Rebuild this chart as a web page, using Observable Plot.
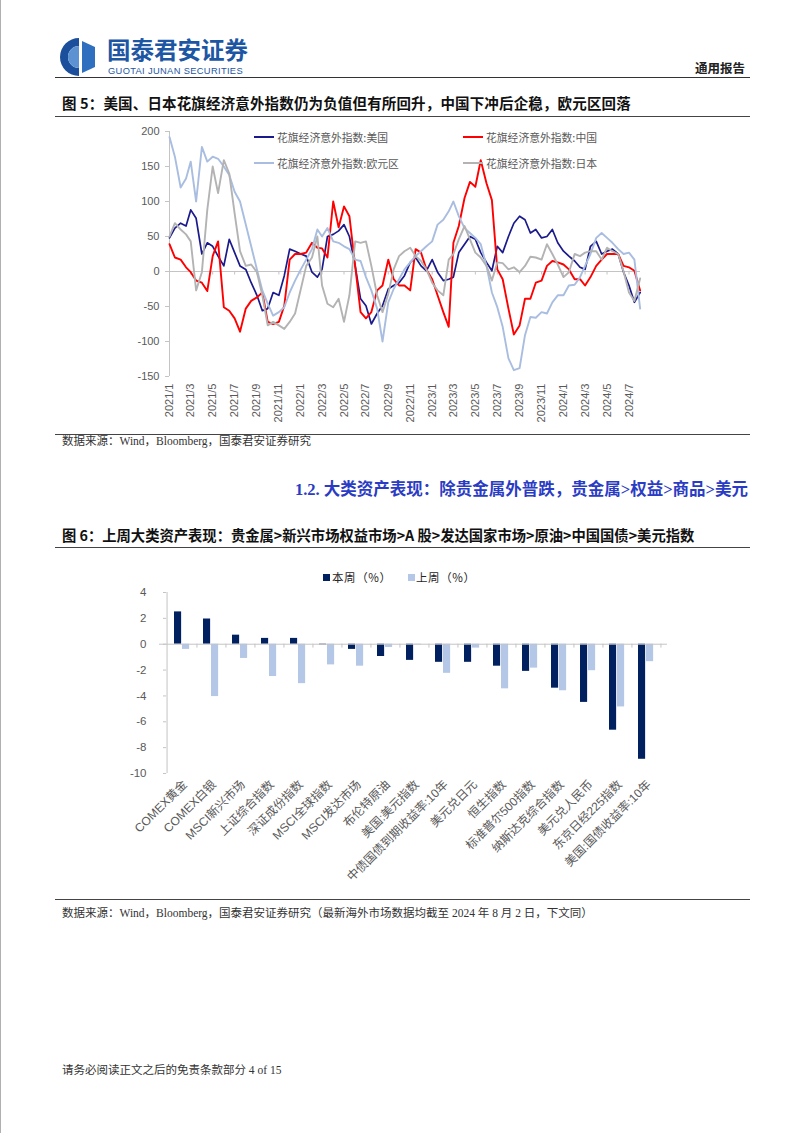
<!DOCTYPE html>
<html><head><meta charset="utf-8">
<script src="https://cdn.jsdelivr.net/npm/d3@7"></script>
<script src="https://cdn.jsdelivr.net/npm/@observablehq/plot@0.6"></script>
<style>
html,body{margin:0;padding:0;background:#fff;}
#page{position:relative;width:802px;height:1133px;overflow:hidden;background:#fff;}
.t{position:absolute;white-space:nowrap;}
.hr{position:absolute;height:0;}
#c1 text,#c2 text{fill:#595959;}
</style></head>
<body><div id="page"></div>
<script>
// ---------------- DATA ----------------
// Chart 1: Citi economic surprise indices, semi-monthly readings from 2021-01 to 2024-08
const surpriseUS = [48,62,69,65,88,76,25,41,36,22, 8,46,27,8,3,-16,-34,-56,-53,-30, -34,-6,32,29,25,22,-1,-8,3,50,
  53,58,67,50,8,-39,-49,-75,-60,-49, -25,-20,-16,-6,13,20,8,1,17,-1, -13,-11,-8,27,39,50,46,27,13,1,
  36,27,50,69,79,74,55,60,48,50, 60,41,29,22,15,6,3,36,43,25, 29,32,25,-1,-20,-44,-30];
const surpriseCN = [39,20,17,6,-1,-13,-16,-28,22,43, -51,-56,-67,-86,-53,-42,-37,-30,-72,-75, -72,-49,17,25,25,27,41,34,33,20,
  100,63,93,79,8,-58,-67,-58,-27,-20, 17,-11,-20,-20,-27,32,27,3,-11,-34, -58,-79,41,65,105,128,121,159,126,102,
  3,-11,-53,-90,-77,-39,-39,-16,-13,8, 15,13,10,3,-11,-11,-20,-8,8,17, 25,25,25,8,6,1,-27];
const surpriseEU = [192,164,120,133,157,100,178,157,164,161, 150,138,114,100,67,36,3,-27,-46,-63, -58,-51,-30,-13,3,17,32,60,50,62,
  43,41,36,32,17,15,-8,-27,-53,-100, -44,-25,-11,3,13,22,29,36,43,67, 74,86,100,79,62,55,48,39,8,-30,
  -51,-79,-124,-141,-138,-91,-65,-66,-58,-60, -44,-34,-34,-20,-19,-8,8,25,48,55, 48,41,32,25,27,17,-53];
const surpriseJP = [50,69,60,53,43,-27,-1,88,150,112, 159,140,83,29,8,10,-1,-34,-77,-72, -77,-82,-72,-60,-25,8,20,50,-20,-46,
  -51,-39,-72,-34,43,41,43,8,-34,-58, -32,3,22,29,34,22,15,3,-16,-27, -34,17,25,46,65,46,27,20,8,-13,
  13,12,3,6,-1,8,21,20,17,39, 25,10,-8,-1,25,22,27,29,29,17, 34,29,25,0,-30,-42,-10];
const seriesNames = ["花旗经济意外指数:美国","花旗经济意外指数:中国","花旗经济意外指数:欧元区","花旗经济意外指数:日本"];
const xTickLabels1 = ["2021/1","2021/3","2021/5","2021/7","2021/9","2021/11","2022/1","2022/3","2022/5","2022/7","2022/9","2022/11",
  "2023/1","2023/3","2023/5","2023/7","2023/9","2023/11","2024/1","2024/3","2024/5","2024/7"];
const yTicks1 = [200,150,100,50,0,-50,-100,-150];

// Chart 2: weekly asset performance (%)
const assets = ["COMEX黄金","COMEX白银","MSCI新兴市场","上证综合指数","深证成份指数","MSCI全球指数","MSCI发达市场","布伦特原油",
  "美国:美元指数","中债国债到期收益率:10年","美元兑日元","恒生指数","标准普尔500指数","纳斯达克综合指数","美元兑人民币","东京日经225指数","美国:国债收益率:10年"];
const thisWeek = [2.5,1.95,0.7,0.45,0.45,-0.05,-0.4,-0.95,-1.25,-1.4,-1.4,-1.7,-2.1,-3.4,-4.5,-6.65,-8.9];
const lastWeek = [-0.4,-4.05,-1.1,-2.5,-3.05,-1.6,-1.7,-0.25,-0.05,-2.25,-0.3,-3.45,-1.85,-3.6,-2.05,-4.85,-1.35];
const yTicks2 = [4,2,0,-2,-4,-6,-8,-10];
const legend2 = ["本周（%）","上周（%）"];

// ---------------- HELPERS ----------------
const page = document.getElementById("page");
const CJK = "'Noto Sans CJK SC', sans-serif";
const SERIF = "'Liberation Serif', 'Noto Sans CJK SC', serif";
function txt(s, o) {
  const d = document.createElement("div");
  d.className = "t";
  d.textContent = s;
  const size = o.size || 12;
  d.style.fontSize = size + "px";
  d.style.lineHeight = size + "px";
  d.style.top = (o.y - size / 2) + "px";
  if (o.anchor === "end") d.style.right = (802 - o.x) + "px"; else d.style.left = o.x + "px";
  d.style.fontFamily = o.family || CJK;
  d.style.fontWeight = o.weight || "normal";
  d.style.color = o.color || "#222";
  if (o.ls) d.style.letterSpacing = o.ls + "px";
  page.appendChild(d);
  return d;
}
function hr(x1, x2, y, w, c) {
  const d = document.createElement("div");
  d.className = "hr";
  d.style.left = x1 + "px"; d.style.width = (x2 - x1) + "px"; d.style.top = y + "px";
  d.style.borderTop = w + "px solid " + c;
  page.appendChild(d);
}
function box(x, y, w, h, c) {
  const d = document.createElement("div");
  d.style.cssText = `position:absolute;left:${x}px;top:${y}px;width:${w}px;height:${h}px;background:${c};`;
  page.appendChild(d);
}

// left page edge
box(0, 0, 1, 1133, "#b0b0b0");

// ---------------- HEADER ----------------
const logo = document.createElement("div");
logo.style.cssText = "position:absolute;left:55px;top:37px;width:48px;height:40px;";
logo.innerHTML = `<svg width="48" height="40" viewBox="0 0 48 40">
  <path d="M24 1 A19 19 0 1 0 24 39 L24 31 A11 11 0 1 1 24 9 Z" fill="#1b4f9c"/>
  <path d="M27 4 L40 10 L40 30 L27 36 Z" fill="#2f6fc0"/>
  <path d="M24 9 A11 11 0 0 0 24 31 Z" fill="#5d92d2"/>
</svg>`;
page.appendChild(logo);
txt("国泰君安证券", {x: 107, y: 50, size: 23.5, weight: "bold", color: "#1d56a3"});
txt("GUOTAI JUNAN SECURITIES", {x: 108, y: 71.5, size: 9.3, family: "'Liberation Sans', sans-serif", color: "#1d56a3", ls: 0.35});
txt("通用报告", {x: 745, y: 68, size: 12.5, weight: "bold", anchor: "end", color: "#222"});
hr(55, 750, 77, 1.5, "#333");

// ---------------- CHART 1 ----------------
txt("图 5：美国、日本花旗经济意外指数仍为负值但有所回升，中国下冲后企稳，欧元区回落", {x: 62, y: 103, size: 14.5, weight: "bold", color: "#111", ls: 0.15});
hr(55, 750, 116, 1, "#444");

const start = new Date(Date.UTC(2021, 0, 1));
const end = new Date(Date.UTC(2024, 7, 2));
const dates = [];
for (let y = 2021; y <= 2024; y++) for (let m = 0; m < 12; m++) {
  if (y === 2024 && m > 7) break;
  dates.push(new Date(Date.UTC(y, m, 1)));
  if (!(y === 2024 && m === 7)) dates.push(new Date(Date.UTC(y, m, 16)));
}
const mk = (vals) => vals.map((v, i) => ({date: dates[i], value: v}));
const parseLbl = (s) => { const [y, m] = s.split("/").map(Number); return new Date(Date.UTC(y, m - 1, 1)); };
const colors1 = ["#1a1a8c", "#ff0000", "#a9bde0", "#b3b3b3"];
const tickLen = new Date(start.getTime() - 11 * 864e5);

const c1 = Plot.plot({
  width: 700, height: 330,
  marginLeft: 169, marginRight: 60, marginTop: 11, marginBottom: 74,
  x: {type: "utc", domain: [start, end], axis: null},
  y: {domain: [-150, 200], ticks: yTicks1, tickSize: 0, tickPadding: 10, label: null, tickFormat: d => String(d)},
  style: {background: "transparent", fontFamily: "'Liberation Sans', Arial, sans-serif", fontSize: "11px", color: "#595959"},
  marks: [
    Plot.ruleY([0], {stroke: "#c4c4c4", strokeWidth: 1}),
    Plot.ruleX(xTickLabels1, {x: parseLbl, y1: 0, y2: -5, stroke: "#c4c4c4"}),
    Plot.ruleX([start], {y1: -150, y2: 200, stroke: "#c4c4c4"}),
    Plot.ruleY(yTicks1, {x1: tickLen, x2: start, stroke: "#c4c4c4"}),
    Plot.line(mk(surpriseUS), {x: "date", y: "value", stroke: colors1[0], strokeWidth: 1.7}),
    Plot.line(mk(surpriseCN), {x: "date", y: "value", stroke: colors1[1], strokeWidth: 1.9}),
    Plot.line(mk(surpriseEU), {x: "date", y: "value", stroke: colors1[2], strokeWidth: 1.9}),
    Plot.line(mk(surpriseJP), {x: "date", y: "value", stroke: colors1[3], strokeWidth: 1.9}),
    Plot.text(xTickLabels1, {x: parseLbl, y: -150, text: d => d, rotate: -90, textAnchor: "end", dy: 7, fontSize: 11, fill: "#595959"})
  ]
});
const w1 = document.createElement("div");
w1.id = "c1";
w1.style.cssText = "position:absolute;left:0;top:120px;";
w1.appendChild(c1);
page.appendChild(w1);

// legend inside chart 1
const legPos = [[254, 137], [463, 137], [254, 163], [463, 163]];
seriesNames.forEach((n, i) => {
  const [lx, ly] = legPos[i];
  box(lx, ly - 1, 20, 2, colors1[i]);
  txt(n, {x: lx + 23, y: ly, size: 10.8, color: "#595959"});
});

hr(55, 750, 434, 1, "#444");
txt("数据来源：Wind，Bloomberg，国泰君安证券研究", {x: 62, y: 442, size: 11.5, family: SERIF, color: "#333"});

// ---------------- SECTION HEADING ----------------
txt("1.2.    大类资产表现：除贵金属外普跌，贵金属>权益>商品>美元", {x: 748, y: 490, size: 16.5, weight: "bold", anchor: "end", color: "#2b3cc4", family: "'Liberation Serif', 'Noto Sans CJK SC', serif"});

// ---------------- CHART 2 ----------------
txt("图 6：上周大类资产表现：贵金属>新兴市场权益市场>A 股>发达国家市场>原油>中国国债>美元指数", {x: 62, y: 535, size: 14.3, weight: "bold", color: "#111"});
hr(55, 750, 547, 1, "#444");

const colors2 = ["#002060", "#b4c7e7"];
box(323, 574, 7, 7, colors2[0]);
txt(legend2[0], {x: 332, y: 577.5, size: 11.5, color: "#262626", ls: 0.6});
box(408, 574, 7, 7, colors2[1]);
txt(legend2[1], {x: 416, y: 577.5, size: 11.5, color: "#262626", ls: 0.6});

const bw = (667 - 159) / assets.length;
const c2 = Plot.plot({
  width: 700, height: 340,
  marginLeft: 159, marginRight: 33, marginTop: 32, marginBottom: 127,
  x: {domain: assets, padding: 0, axis: null},
  y: {domain: [-10, 4], ticks: yTicks2, tickSize: 0, tickPadding: 13, label: null, tickFormat: d => String(d)},
  style: {background: "transparent", fontFamily: "'Liberation Sans', Arial, sans-serif", fontSize: "11.5px", color: "#595959", overflow: "visible"},
  marks: [
    Plot.ruleX([assets[0]], {dx: -bw / 2, y1: -10, y2: 4, stroke: "#c4c4c4"}),
    Plot.tickY(yTicks2, {y: d => d, x: () => assets[0], insetLeft: -4, insetRight: bw, stroke: "#c4c4c4"}),
    Plot.barY(assets, {x: d => d, y: (d, i) => thisWeek[i], fill: colors2[0], insetLeft: 7, insetRight: bw - 15}),
    Plot.barY(assets, {x: d => d, y: (d, i) => lastWeek[i], fill: colors2[1], insetLeft: 15, insetRight: bw - 23}),
    Plot.ruleY([0], {stroke: "#c4c4c4"}),
    Plot.ruleX(assets, {x: d => d, dx: bw / 2, y1: 0, y2: -0.3, stroke: "#c4c4c4"}),
    Plot.text(assets, {x: d => d, y: -10, text: d => d, rotate: -45, textAnchor: "end", dx: 3, dy: 9, fontSize: 12, fill: "#595959",
      fontFamily: "'Liberation Sans', 'Noto Sans CJK SC', sans-serif"})
  ]
});
const w2 = document.createElement("div");
w2.id = "c2";
w2.style.cssText = "position:absolute;left:0;top:560px;";
w2.appendChild(c2);
page.appendChild(w2);

hr(55, 750, 899, 1, "#444");
txt("数据来源：Wind，Bloomberg，国泰君安证券研究（最新海外市场数据均截至 2024 年 8 月 2 日，下文同）", {x: 62, y: 914, size: 11.5, family: SERIF, color: "#333"});

// ---------------- FOOTER ----------------
txt("请务必阅读正文之后的免责条款部分 4 of 15", {x: 62, y: 1071, size: 11.5, family: SERIF, color: "#333"});
</script>
</body></html>
